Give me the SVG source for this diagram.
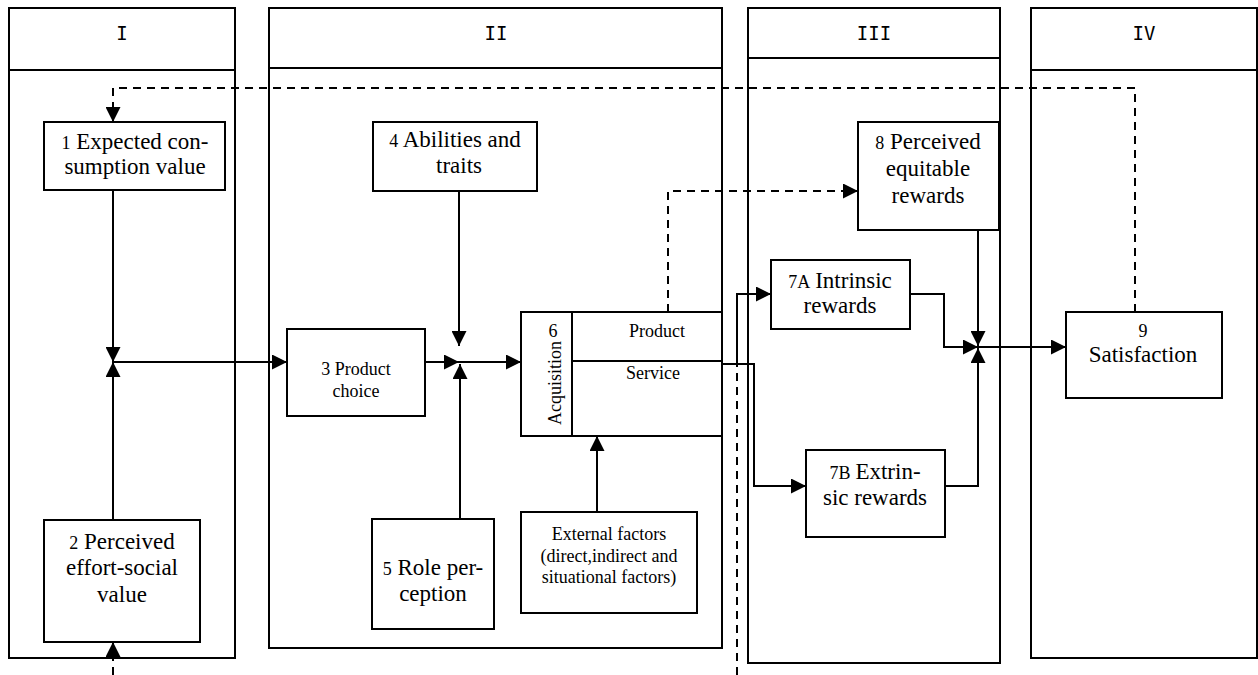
<svg xmlns="http://www.w3.org/2000/svg" width="1258" height="675" viewBox="0 0 1258 675">
<style>
.col{fill:none;stroke:#000;stroke-width:2}
.box{fill:#fff;stroke:#000;stroke-width:2}
.hd{font-family:'DejaVu Sans Mono','Liberation Mono',monospace;font-size:19px;text-anchor:middle;fill:#000}
.t{font-family:'Liberation Serif','DejaVu Serif','Noto Serif',serif;font-size:23px;text-anchor:middle;fill:#000}
.s{font-family:'Liberation Serif','DejaVu Serif','Noto Serif',serif;font-size:18px;text-anchor:middle;fill:#000}
.n{font-size:18px}
.ln{fill:none;stroke:#000;stroke-width:2}
.dl{fill:none;stroke:#000;stroke-width:2;stroke-dasharray:8 6}
</style>
<defs>
<marker id="ah" markerUnits="userSpaceOnUse" markerWidth="16" markerHeight="15" refX="15" refY="7.5" orient="auto">
<path d="M0,0 L15,7.5 L0,15 z" fill="#000"/>
</marker>
</defs>
<rect width="1258" height="675" fill="#fff"/>
<g id="columns">
<rect class="col" x="9" y="8" width="226" height="650"/>
<line class="col" x1="9" y1="70" x2="235" y2="70"/>
<text class="hd" x="122" y="40">I</text>
<rect class="col" x="269" y="8" width="453" height="640"/>
<line class="col" x1="269" y1="68" x2="722" y2="68"/>
<text class="hd" x="496" y="40">II</text>
<rect class="col" x="748" y="8" width="252" height="655"/>
<line class="col" x1="748" y1="58" x2="1000" y2="58"/>
<text class="hd" x="874" y="40">III</text>
<rect class="col" x="1031" y="8" width="226" height="650"/>
<line class="col" x1="1031" y1="70" x2="1257" y2="70"/>
<text class="hd" x="1144" y="40">IV</text>
</g>
<g id="connectors">
<path class="dl" d="M1135,312 V88 H113 V122" marker-end="url(#ah)"/>
<path class="dl" d="M113,675 V642" marker-end="url(#ah)"/>
<path class="dl" d="M668,312 V191 H858" marker-end="url(#ah)"/>
<path class="dl" d="M737,675 V364"/>
<path class="ln" d="M737,364 V294 H771" marker-end="url(#ah)"/>
<path class="ln" d="M113,190 V362" marker-end="url(#ah)"/>
<path class="ln" d="M113,520 V362" marker-end="url(#ah)"/>
<path class="ln" d="M113,362 H287" marker-end="url(#ah)"/>
<path class="ln" d="M459,191 V346" marker-end="url(#ah)"/>
<path class="ln" d="M425,362 H459" marker-end="url(#ah)"/>
<path class="ln" d="M460,519 V364" marker-end="url(#ah)"/>
<path class="ln" d="M459,362 H521" marker-end="url(#ah)"/>
<path class="ln" d="M597,512 V436" marker-end="url(#ah)"/>
<path class="ln" d="M722,364 H754 V486 H806" marker-end="url(#ah)"/>
<path class="ln" d="M978,230 V346" marker-end="url(#ah)"/>
<path class="ln" d="M910,294 H944 V347 H978" marker-end="url(#ah)"/>
<path class="ln" d="M945,486 H978 V348" marker-end="url(#ah)"/>
<path class="ln" d="M978,347 H1066" marker-end="url(#ah)"/>
</g>
<g id="n1">
<rect class="box" x="44" y="122" width="181" height="68"/>
<text class="t" x="135" y="149"><tspan class="n">1</tspan> Expected con-</text>
<text class="t" x="135" y="174">sumption value</text>
</g>
<g id="n2">
<rect class="box" x="44" y="520" width="156" height="122"/>
<text class="t" x="122" y="549"><tspan class="n">2</tspan> Perceived</text>
<text class="t" x="122" y="575">effort-social</text>
<text class="t" x="122" y="602">value</text>
</g>
<g id="n3">
<rect class="box" x="287" y="329" width="138" height="87"/>
<text class="s" x="356" y="375">3 Product</text>
<text class="s" x="356" y="397">choice</text>
</g>
<g id="n4">
<rect class="box" x="373" y="122" width="164" height="69"/>
<text class="t" x="455" y="147"><tspan class="n">4</tspan> Abilities and</text>
<text class="t" x="459" y="173">traits</text>
</g>
<g id="n5">
<rect class="box" x="372" y="519" width="122" height="110"/>
<text class="t" x="433" y="575"><tspan class="n">5</tspan> Role per-</text>
<text class="t" x="433" y="601">ception</text>
</g>
<g id="n6">
<rect class="box" x="521" y="312" width="201" height="124"/>
<line class="ln" x1="572" y1="312" x2="572" y2="436"/>
<line class="ln" x1="572" y1="361" x2="722" y2="361"/>
<text class="s" x="553" y="337">6</text>
<text class="s" transform="translate(561,383) rotate(-90)">Acquisition</text>
<text class="s" x="657" y="337">Product</text>
<text class="s" x="653" y="379">Service</text>
</g>
<g id="ext">
<rect class="box" x="521" y="512" width="176" height="101"/>
<text class="s" x="609" y="540">External factors</text>
<text class="s" x="609" y="562">(direct,indirect and</text>
<text class="s" x="609" y="583">situational factors)</text>
</g>
<g id="n7a">
<rect class="box" x="771" y="260" width="139" height="69"/>
<text class="t" x="840" y="288"><tspan class="n">7A</tspan><tspan dx="5">Intrinsic</tspan></text>
<text class="t" x="840" y="313">rewards</text>
</g>
<g id="n7b">
<rect class="box" x="806" y="450" width="139" height="87"/>
<text class="t" x="875" y="479"><tspan class="n">7B</tspan><tspan dx="5">Extrin-</tspan></text>
<text class="t" x="875" y="505">sic rewards</text>
</g>
<g id="n8">
<rect class="box" x="858" y="122" width="141" height="108"/>
<text class="t" x="928" y="149"><tspan class="n">8</tspan> Perceived</text>
<text class="t" x="928" y="176">equitable</text>
<text class="t" x="928" y="203">rewards</text>
</g>
<g id="n9">
<rect class="box" x="1066" y="312" width="156" height="86"/>
<text class="s" x="1143" y="337">9</text>
<text class="t" x="1143" y="362">Satisfaction</text>
</g>
</svg>
